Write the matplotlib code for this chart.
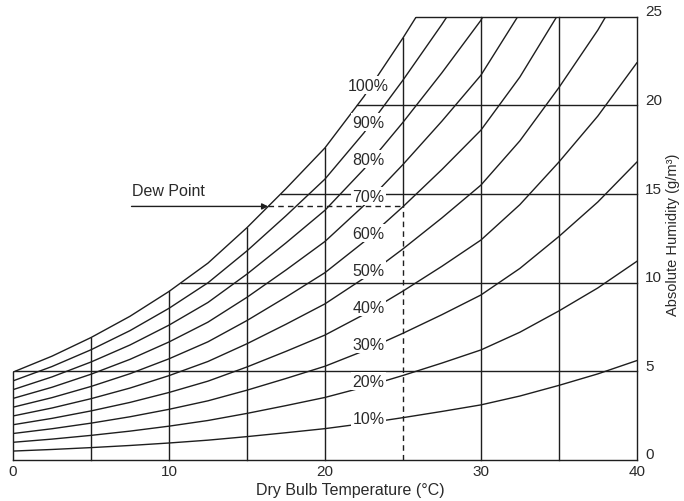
# Psychrometric-style chart: relative humidity curves vs dry bulb temperature
import numpy as np
import matplotlib
matplotlib.use('Agg')
import matplotlib.pyplot as plt
from matplotlib.transforms import ScaledTranslation

plt.rcParams['font.family'] = ['Liberation Sans', 'DejaVu Sans']

# dry bulb temperature (C) and saturation vapour density (g/m3)
temps = [0, 2.5, 5, 7.5, 10, 12.5, 15, 17.5, 20, 22.5, 25, 27.5, 30, 32.5, 35, 37.5, 40]
sat = [4.95, 5.85, 6.9, 8.1, 9.5, 11.1, 13.1, 15.3, 17.6, 20.5, 23.8, 27.3,
       31.0, 36.0, 42.0, 48.5, 56.0]
rh_levels = [10, 20, 30, 40, 50, 60, 70, 80, 90, 100]

x_grid = [0, 5, 10, 15, 20, 30, 35, 40]
y_grid = [5, 10, 15, 20, 25]
x_ticks = [0, 10, 20, 30, 40]
y_ticks = [0, 5, 10, 15, 20, 25]

dry_bulb = 25      # example air temperature
dew_y = 14.3       # its absolute humidity
arrow_start = 7.6  # where the "Dew Point" arrow begins

ink = '#1e1e1e'
text_col = '#2a2a2a'
lw = 1.0

fig = plt.figure(figsize=(6.84, 5.02), dpi=100)
ax = fig.add_axes([0.019, 0.082, 0.912, 0.8825])
ax.set_xlim(0, 40)
ax.set_ylim(0, 25)

temps_a = np.array(temps)
sat_a = np.array(sat)

# RH curves
for rh in rh_levels:
    ax.plot(temps_a, rh / 100 * sat_a, color=ink, lw=lw, zorder=2)

# vertical grid lines up to the saturation curve
for xv in x_grid:
    top = min(np.interp(xv, temps_a, sat_a), 25)
    ax.plot([xv, xv], [0, top], color=ink, lw=lw, clip_on=False, zorder=2)

# horizontal grid lines from the saturation curve to 40 C
for yv in y_grid:
    start = np.interp(yv, sat_a, temps_a)
    ax.plot([start, 40], [yv, yv], color=ink, lw=lw, clip_on=False, zorder=2)
ax.plot([0, 40], [0, 0], color=ink, lw=lw, clip_on=False, zorder=2)

# 25 C line: solid above the example point, dashed below
sat_db = np.interp(dry_bulb, temps_a, sat_a)
ax.plot([dry_bulb, dry_bulb], [dew_y, sat_db], color=ink, lw=lw, zorder=2)
ax.plot([dry_bulb, dry_bulb], [0, dew_y], color=ink, lw=lw,
        dashes=(4, 3), zorder=2)

# dew point construction
dew_x = np.interp(dew_y, sat_a, temps_a)
ax.plot([dew_x, dry_bulb], [dew_y, dew_y], color=ink, lw=lw,
        dashes=(4, 3), zorder=2)
ax.annotate('', xy=(dew_x, dew_y), xytext=(arrow_start, dew_y),
            arrowprops=dict(arrowstyle='-|>', color=ink, lw=lw,
                            mutation_scale=9, shrinkA=0, shrinkB=0))
ax.text(arrow_start, dew_y + 0.45, 'Dew Point', fontsize=11.5, color=text_col,
        ha='left', va='bottom')

# inline curve labels
lab_x = 22.8
sat_lab = np.interp(lab_x, temps_a, sat_a)
for rh in rh_levels:
    ax.text(lab_x, rh / 100 * sat_lab + 0.25, '{0}%'.format(rh),
            fontsize=11.5, color=text_col, ha='center', va='center', zorder=3,
            bbox=dict(boxstyle='square,pad=0.1', fc='white', ec='none'))

# axes decoration
for s in ax.spines.values():
    s.set_visible(False)
ax.set_xticks(x_ticks)
ax.set_yticks(y_ticks)
ax.yaxis.tick_right()
ax.yaxis.set_label_position('right')
ax.tick_params(axis='both', length=0, labelsize=11, colors=text_col)
ax.tick_params(axis='x', pad=3)
ax.tick_params(axis='y', pad=6)
up = ScaledTranslation(0, 5 / 72, fig.dpi_scale_trans)
for lab in ax.get_yticklabels():
    lab.set_transform(lab.get_transform() + up)
    lab.set_horizontalalignment('left')

ax.set_xlabel('Dry Bulb Temperature (°C)', fontsize=11.5, color=text_col)
ax.xaxis.set_label_coords(0.54, -0.05)
ax.set_ylabel('Absolute Humidity (g/m³)', fontsize=10.5, color=text_col,
              rotation=90)
ax.yaxis.label.set_rotation_mode('anchor')
ax.yaxis.label.set_horizontalalignment('center')
ax.yaxis.label.set_verticalalignment('center')
ax.yaxis.set_label_coords(1.058, 0.51)

fig.savefig('out.png', dpi=100)
